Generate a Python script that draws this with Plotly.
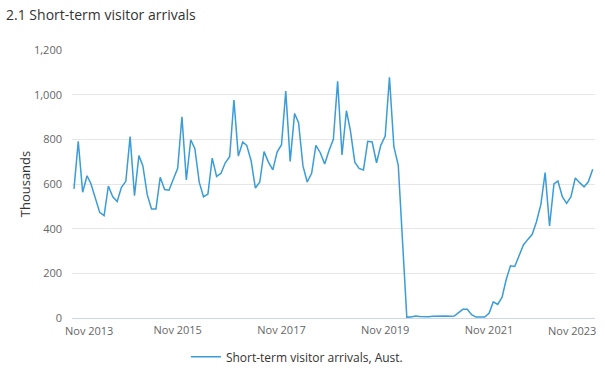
import plotly.graph_objects as go
import pandas as pd

# Monthly short-term visitor arrivals, Australia ('000), Nov 2013 - Nov 2023
months = pd.date_range("2013-11-01", periods=121, freq="MS")
arrivals = [
    578, 791, 563, 637, 600, 531, 473, 458, 591, 543, 522, 585,
    612, 812, 548, 727, 681, 551, 488, 488, 630, 575, 572, 621,
    670, 901, 618, 798, 758, 607, 543, 555, 716, 634, 648, 695,
    722, 976, 725, 788, 773, 704, 582, 609, 745, 698, 663, 743,
    776, 1016, 701, 916, 875, 681, 609, 648, 773, 740, 690, 749,
    800, 1060, 730, 928, 839, 698, 670, 663, 791, 788, 695, 773,
    815, 1078, 767, 684, 350, 4, 5, 9, 7, 6, 6, 8,
    9, 9, 9, 8, 9, 24, 39, 39, 15, 4, 4, 4,
    21, 72, 61, 93, 170, 234, 231, 278, 327, 352, 375, 431,
    509, 651, 412, 600, 613, 543, 513, 543, 627, 606, 587, 610,
    666,
]
first_tick_date = "2013-11-01"
first_tick_label = "Nov 2013"
tick_dates = ["2015-11-01", "2017-11-01", "2019-11-01", "2021-11-01"]
tick_labels = ["Nov 2015", "Nov 2017", "Nov 2019", "Nov 2021"]
last_tick_date = "2023-11-01"
last_tick_label = "Nov 2023"
y_ticks = [0, 200, 400, 600, 800, 1000, 1200]
y_tick_labels = ["0", "200", "400", "600", "800", "1,000", "1,200"]

FONT = "Open Sans, Segoe UI, sans-serif"

fig = go.Figure()
fig.add_trace(go.Scatter(
    x=months, y=arrivals, mode="lines",
    name="Short-term visitor arrivals, Aust.",
    line=dict(color="#3a9cd8", width=1.5),
))

fig.update_layout(
    width=605, height=376,
    margin=dict(l=72, r=10, t=50, b=58, autoexpand=False),
    paper_bgcolor="white", plot_bgcolor="white",
    font=dict(family=FONT, color="#333333"),
    title=dict(text="2.1 Short-term visitor arrivals", x=0.01, xanchor="left",
               y=0.96, yanchor="middle", automargin=False,
               font=dict(size=14, color="#333333", family=FONT)),
    showlegend=True,
    legend=dict(orientation="h", x=0.43, xanchor="center", y=-0.145, yanchor="middle",
                font=dict(size=12, color="#333333", family=FONT), itemwidth=30),
    xaxis=dict(
        range=["2013-10-18", "2023-11-17"], automargin=False,
        tickvals=tick_dates, ticktext=tick_labels,
        showgrid=False, showline=True, linecolor="#ccd6eb", linewidth=1,
        ticks="", ticklabelstandoff=2,
        tickfont=dict(size=11, color="#666666", family=FONT),
    ),
    yaxis=dict(
        range=[0, 1200], tickvals=y_ticks, ticktext=y_tick_labels, automargin=False,
        showgrid=True, gridcolor="#e6e6e6", gridwidth=1,
        zeroline=False, showline=False, ticks="", ticklabelstandoff=9,
        tickfont=dict(size=11, color="#666666", family=FONT),
        title=dict(text="Thousands", font=dict(size=13, color="#333333", family=FONT),
                   standoff=0),
    ),
)

# End labels justified inside the chart, as in the reference
fig.add_annotation(
    x=first_tick_date, y=0, xref="x", yref="paper",
    text=first_tick_label, showarrow=False,
    xanchor="left", yanchor="top", xshift=-11, yshift=-3,
    font=dict(size=11, color="#666666", family=FONT),
)
fig.add_annotation(
    x=last_tick_date, y=0, xref="x", yref="paper",
    text=last_tick_label, showarrow=False,
    xanchor="right", yanchor="top", xshift=5, yshift=-3,
    font=dict(size=11, color="#666666", family=FONT),
)

fig.write_html("out.html",
               config={"displayModeBar": False},
               post_script="document.body.style.margin='0';document.body.style.overflow='hidden';")
